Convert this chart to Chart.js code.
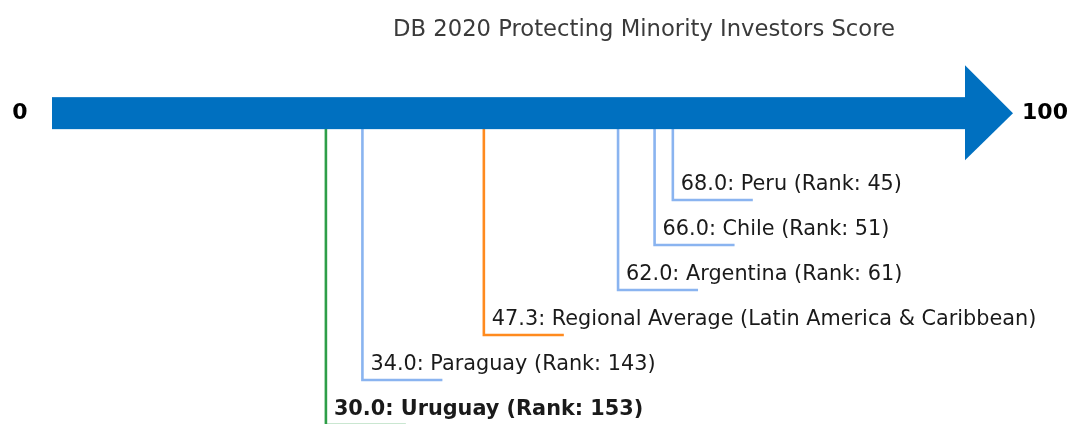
<!DOCTYPE html>
<html lang="en">
<head>
    <meta charset="UTF-8">
    <title>DB 2020 Protecting Minority Investors Score</title>
    <style>
        html, body { margin: 0; padding: 0; background: #fff; }
        #wrap { width: 1072px; height: 424px; }
    </style>
</head>
<body>
    <div id="wrap">
        <canvas id="myChart" width="1072" height="424"></canvas>
    </div>

    <script src="https://cdn.jsdelivr.net/npm/chart.js"></script>
    <script>
        // data
        const countries = ['Peru', 'Chile', 'Argentina', 'Regional Average (Latin America & Caribbean)', 'Paraguay', 'Uruguay'];
        const scores = [68.0, 66.0, 62.0, 47.3, 34.0, 30.0];
        const ranks = [45, 51, 61, null, 143, 153];
        const levels = [2, 3, 4, 5, 6, 7];   // stacking row of each label under the arrow
        const axisMin = 0;
        const axisMax = 100;

        const colors = ['#8ab4f0', '#8ab4f0', '#8ab4f0', '#ff8a1e', '#8ab4f0', '#2e9e48'];
        const highlight = 'Uruguay';
        const ARROW_Y = 0.07;
        const STUB = 8.76; // horizontal leader length, in score units

        const datasets = scores.map((s, i) => ({
            label: countries[i],
            data: [
                { x: s, y: ARROW_Y },
                { x: s, y: levels[i] },
                { x: s + STUB, y: levels[i] }
            ],
            borderColor: colors[i],
            borderWidth: 2.6,
            pointRadius: 0,
            tension: 0,
            clip: false,
            fill: false
        }));

        const arrowPlugin = {
            id: 'arrowPlugin',
            afterDatasetsDraw(chart) {
                const ctx = chart.ctx;
                const xs = chart.scales.x, ys = chart.scales.y;
                const x0 = xs.getPixelForValue(axisMin);
                const x1 = xs.getPixelForValue(axisMax);
                const yc = ys.getPixelForValue(ARROW_Y);
                ctx.save();
                ctx.fillStyle = '#0070c0';
                ctx.fillRect(x0, yc - 16, x1 - x0, 32);
                ctx.beginPath();
                ctx.moveTo(x1, yc - 48);
                ctx.lineTo(x1 + 48, yc);
                ctx.lineTo(x1, yc + 47);
                ctx.closePath();
                ctx.fill();

                // end labels
                ctx.fillStyle = '#000';
                ctx.font = 'bold 22px "DejaVu Sans"';
                ctx.textBaseline = 'middle';
                ctx.textAlign = 'center';
                ctx.fillText(String(axisMin), 20, yc);
                ctx.fillText(String(axisMax), 1045, yc);

                // title
                ctx.fillStyle = '#3a3a3a';
                ctx.font = '22.7px "DejaVu Sans"';
                ctx.fillText('DB 2020 Protecting Minority Investors Score', 644, 30);

                // value labels
                ctx.textAlign = 'left';
                scores.forEach((s, i) => {
                    const px = xs.getPixelForValue(s) + 8;
                    const py = ys.getPixelForValue(levels[i]) - 15;
                    let txt = s.toFixed(1) + ': ' + countries[i];
                    if (ranks[i] !== null) txt += ' (Rank: ' + ranks[i] + ')';
                    ctx.font = (countries[i] === highlight ? 'bold ' : '') + '20.8px "DejaVu Sans"';
                    ctx.fillStyle = '#1a1a1a';
                    ctx.fillText(txt, px, py);
                });
                ctx.restore();
            }
        };

        const ctx = document.getElementById('myChart').getContext('2d');
        const myChart = new Chart(ctx, {
            type: 'line',
            data: { datasets: datasets },
            options: {
                responsive: false,
                animation: false,
                layout: { padding: { left: 52, right: 107, top: 0, bottom: 0 } },
                plugins: {
                    legend: { display: false },
                    tooltip: { enabled: false }
                },
                scales: {
                    x: { type: 'linear', min: axisMin, max: axisMax, display: false },
                    y: { type: 'linear', reverse: true, min: -110 / 45, max: 314 / 45, display: false }
                }
            },
            plugins: [arrowPlugin]
        });
    </script>
</body>
</html>
